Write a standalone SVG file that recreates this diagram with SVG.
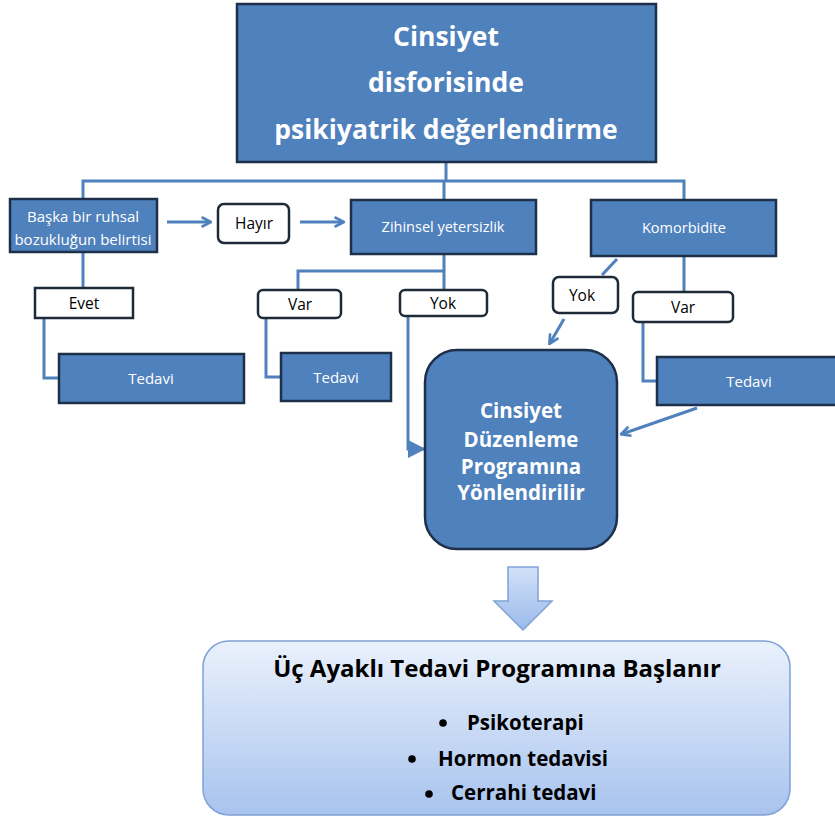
<svg xmlns="http://www.w3.org/2000/svg" width="835" height="819" viewBox="0 0 835 819">
<defs>
<style>
.bx{fill:#4F81BD;stroke:#1E3049;stroke-width:2.5}
.lb{fill:#fff;stroke:#1E2A38;stroke-width:2.5}
.cn{fill:none;stroke:#4F81BD;stroke-width:3}
.wt{fill:#fff;font-family:"Open Sans",sans-serif;text-anchor:middle}
.bk{fill:#000;font-family:"Open Sans",sans-serif;text-anchor:middle}
.bl{fill:#000;font-family:"Open Sans",sans-serif;font-weight:bold;font-size:20.5px}
.hb{font-weight:bold}
</style>
<marker id="ah" viewBox="0 0 10 10" refX="8" refY="5" markerWidth="4" markerHeight="4" orient="auto" markerUnits="strokeWidth">
<path d="M1,1 L9,5 L1,9" fill="none" stroke="#4F81BD" stroke-width="2.2"/>
</marker>
<marker id="tri" viewBox="0 0 10 10" refX="9" refY="5" markerWidth="6" markerHeight="7" orient="auto" markerUnits="strokeWidth">
<path d="M0,0 L10,5 L0,10 Z" fill="#4F81BD"/>
</marker>
<linearGradient id="gb" x1="0" y1="0" x2="0" y2="1">
<stop offset="0" stop-color="#EAF1FC"/>
<stop offset="1" stop-color="#A8C3EE"/>
</linearGradient>
<linearGradient id="ga" x1="0" y1="0" x2="0" y2="1">
<stop offset="0" stop-color="#D2E1F8"/>
<stop offset="1" stop-color="#9BBAEB"/>
</linearGradient>
</defs>

<g id="connectors">
<path class="cn" d="M446,162 V181 M83,199 V181 H684 V199 M444,181 V200"/>
<path class="cn" d="M167,222 H210" marker-end="url(#ah)"/>
<path class="cn" d="M300,222 H343" marker-end="url(#ah)"/>
<path class="cn" d="M83,252 V288"/>
<path class="cn" d="M44,318 V378 H59"/>
<path class="cn" d="M444,254 V290 M444,271 H298 V290"/>
<path class="cn" d="M266,318 V377 H281"/>
<path class="cn" d="M408,316 V449 H424" marker-end="url(#tri)"/>
<path class="cn" d="M617,259 L602,275"/>
<path class="cn" d="M564,319 L550,343" marker-end="url(#ah)"/>
<path class="cn" d="M684,256 V292"/>
<path class="cn" d="M643,322 V381 H657"/>
<path class="cn" d="M697,408 L622,434" marker-end="url(#ah)"/>
</g>

<g id="top">
<rect class="bx" x="237" y="4" width="419" height="158"/>
<text class="wt hb" font-size="26.5" x="446" y="46">Cinsiyet</text>
<text class="wt hb" font-size="26.5" x="446" y="92">disforisinde</text>
<text class="wt hb" font-size="26.5" x="446" y="139">psikiyatrik değerlendirme</text>
</g>

<g id="baska">
<rect class="bx" x="10" y="199" width="147" height="53"/>
<text class="wt" font-size="15" x="83" y="222">Başka bir ruhsal</text>
<text class="wt" font-size="15" x="83" y="245">bozukluğun belirtisi</text>
</g>

<g id="hayir">
<rect class="lb" x="218" y="204" width="71" height="39" rx="6"/>
<text class="bk" font-size="15.5" x="254" y="229">Hayır</text>
</g>

<g id="zihinsel">
<rect class="bx" x="351" y="200" width="185" height="54"/>
<text class="wt" font-size="14.5" x="443" y="232">Zihinsel yetersizlik</text>
</g>

<g id="komorbidite">
<rect class="bx" x="591" y="200" width="185" height="56"/>
<text class="wt" font-size="14.5" x="684" y="233">Komorbidite</text>
</g>

<g id="evet">
<rect class="lb" x="35" y="288" width="98" height="30"/>
<text class="bk" font-size="15.5" x="84" y="309">Evet</text>
</g>

<g id="tedavi1">
<rect class="bx" x="59" y="354" width="185" height="49"/>
<text class="wt" font-size="15" x="151" y="384">Tedavi</text>
</g>

<g id="var1">
<rect class="lb" x="258" y="290" width="83" height="28" rx="5"/>
<text class="bk" font-size="15.5" x="300" y="310">Var</text>
</g>

<g id="yok1">
<rect class="lb" x="400" y="290" width="87" height="26" rx="5"/>
<text class="bk" font-size="15.5" x="443" y="309">Yok</text>
</g>

<g id="tedavi2">
<rect class="bx" x="281" y="353" width="110" height="48"/>
<text class="wt" font-size="15" x="336" y="383">Tedavi</text>
</g>

<g id="yok2">
<rect class="lb" x="553" y="277" width="65" height="36" rx="6"/>
<text class="bk" font-size="15.5" x="582" y="301">Yok</text>
</g>

<g id="var2">
<rect class="lb" x="633" y="292" width="100" height="30" rx="5"/>
<text class="bk" font-size="15.5" x="683" y="313">Var</text>
</g>

<g id="tedavi3">
<rect class="bx" x="657" y="357" width="190" height="48"/>
<text class="wt" font-size="15" x="749" y="387">Tedavi</text>
</g>

<g id="program">
<rect class="bx" x="425" y="350" width="192" height="199" rx="32"/>
<text class="wt hb" font-size="20.5" x="521" y="418">Cinsiyet</text>
<text class="wt hb" font-size="20.5" x="521" y="447">Düzenleme</text>
<text class="wt hb" font-size="20.5" x="521" y="474">Programına</text>
<text class="wt hb" font-size="20.5" x="521" y="500">Yönlendirilir</text>
</g>

<g id="downarrow">
<path d="M508,567 H538 V601 H552 L523,630 L494,601 H508 Z" fill="url(#ga)" stroke="#7FA2D6" stroke-width="1.5"/>
</g>

<g id="bottom">
<rect x="203" y="641" width="587" height="174" rx="26" fill="url(#gb)" stroke="#7EA1D6" stroke-width="1.5"/>
<text class="bk hb" font-size="24" x="497" y="677">Üç Ayaklı Tedavi Programına Başlanır</text>
<circle cx="443" cy="723" r="3.8" fill="#000"/>
<text class="bl" x="467" y="730">Psikoterapi</text>
<circle cx="412" cy="759" r="3.8" fill="#000"/>
<text class="bl" x="438" y="766">Hormon tedavisi</text>
<circle cx="429" cy="794" r="3.8" fill="#000"/>
<text class="bl" x="451" y="800">Cerrahi tedavi</text>
</g>
</svg>
